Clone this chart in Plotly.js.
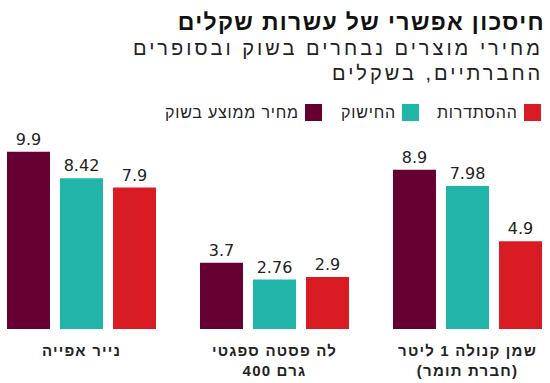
<!DOCTYPE html>
<html>
<head>
<meta charset="utf-8">
<script src="https://cdn.plot.ly/plotly-3.0.1.min.js"></script>
<style>html,body{margin:0;padding:0;background:#fff;}#chart{width:550px;height:383px;}</style>
</head>
<body>
<div id="chart"></div>
<script>
// Data
const categories = ["נייר אפייה", "לה פסטה ספגטי<br>\u202A400 גרם\u202C", "שמן קנולה 1 ליטר<br>(חברת תומר)"];
const seriesNames = ["מחיר ממוצע בשוק", "החישוק", "ההסתדרות"];
const marketAvg = [9.9, 3.7, 8.9];
const hishuk = [8.42, 2.76, 7.98];
const histadrut = [7.9, 2.9, 4.9];
const valueLabels = [["9.9", "3.7", "8.9"], ["8.42", "2.76", "7.98"], ["7.9", "2.9", "4.9"]];
const titleText = "חיסכון אפשרי של עשרות שקלים";
const subtitleLines = ["מחירי מוצרים נבחרים בשוק ובסופרים", "החברתיים, בשקלים"];

const colors = ["#660033", "#20b5a8", "#d91c24"];
const W = 550, H = 383;
const M = {l: 0, r: 0, t: 141, b: 54};
const plotH = H - M.t - M.b, plotW = W - M.l - M.r;
const px2x = p => (p - M.l) / plotW;
const px2y = p => (H - M.b - p) / plotH;
const spaced = (t, s) => t.split('<br>').map(l => '<span style="letter-spacing:' + s + 'px">' + l + '</span>').join('<br>');

const font = "'Liberation Sans', Arial, sans-serif";
const numFont = "'DejaVu Sans', sans-serif";

const values = [marketAvg, hishuk, histadrut];
const traces = values.map((v, i) => ({
  type: 'bar',
  name: seriesNames[i],
  x: categories,
  y: v,
  text: valueLabels[i],
  textposition: 'outside',
  cliponaxis: false,
  textfont: {family: numFont, size: 16, color: '#222'},
  marker: {color: colors[i], line: {width: 0}},
  hoverinfo: 'none'
}));

const annotations = [];
const shapes = [];
// subtitle
subtitleLines.forEach((t, i) => {
  annotations.push({
    text: spaced(t, 3), xref: 'paper', yref: 'paper', x: px2x(545), y: px2y(48 + i * 25),
    xanchor: 'right', yanchor: 'middle', showarrow: false,
    font: {family: font, size: 20, color: '#222'}
  });
});
// legend (right to left)
const legendSquares = [524, 402, 305];
const legendOrder = [2, 1, 0];
legendOrder.forEach((si, k) => {
  const sx = legendSquares[k];
  shapes.push({type: 'rect', xref: 'paper', yref: 'paper',
    x0: px2x(sx), x1: px2x(sx + 17), y0: px2y(121), y1: px2y(104),
    fillcolor: colors[si], line: {width: 0}});
  annotations.push({text: spaced(seriesNames[si], 0.8), xref: 'paper', yref: 'paper',
    x: px2x(sx - 4), y: px2y(112), xanchor: 'right', yanchor: 'middle', showarrow: false,
    font: {family: font, size: 16, color: '#222'}});
});

const layout = {
  width: W, height: H,
  margin: M,
  paper_bgcolor: '#fff', plot_bgcolor: '#fff',
  showlegend: false,
  barmode: 'group',
  bargap: 0.176,
  bargroupgap: 0.189,
  title: {text: '<b>' + spaced(titleText, 1.35) + '</b>', x: px2x(545), xref: 'paper', xanchor: 'right',
    y: 1 - 22 / H, yref: 'container', yanchor: 'middle',
    font: {family: font, size: 23, color: '#111'}},
  xaxis: {type: 'category', range: [-0.4223, 2.4275], showgrid: false, zeroline: false,
    showline: false, ticks: 'outside', ticklen: 8, tickcolor: 'rgba(0,0,0,0)',
    tickvals: categories, ticktext: categories.map(c => spaced(c, 1.2)),
    tickfont: {family: font, size: 15, color: '#222', weight: 'bold'}, fixedrange: true},
  yaxis: {range: [0, 10.5], visible: false, fixedrange: true},
  annotations: annotations,
  shapes: shapes
};
Plotly.newPlot('chart', traces, layout, {displayModeBar: false, staticPlot: true});
</script>
</body>
</html>
